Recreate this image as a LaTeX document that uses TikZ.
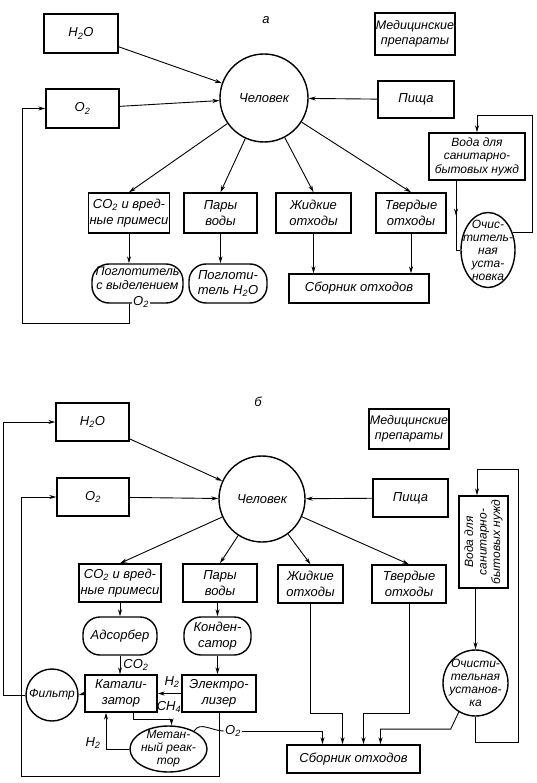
\documentclass[tikz,border=0pt]{standalone}
\usepackage{fontspec}
\setmainfont{Liberation Sans}
\usepackage{tikz}
\usetikzlibrary{calc,positioning,arrows,arrows.meta,shapes}

\begin{document}
\begin{tikzpicture}[x=1pt,y=-1pt,line width=0.9pt,>={Stealth[length=7pt,width=4pt]}]

\tikzstyle{every node}=[font=\fontsize{13}{15.5}\selectfont\itshape,
                        align=center, inner sep=1pt]
\tikzstyle{box}=[rectangle, draw, line width=1.4pt]
\tikzstyle{blob}=[rectangle, rounded corners=17pt, draw, line width=1.4pt]
\tikzstyle{oval}=[ellipse, draw, line width=1.4pt, inner sep=-7pt,
                  font=\fontsize{12}{13}\selectfont\itshape]
\tikzstyle{man}=[circle, draw, line width=1.4pt]

\useasboundingbox (0,0) rectangle (537,783);

%%% a
\node (tagA) at (266,20) {а};
\node[box, minimum width=74pt, minimum height=39pt] (h2oA) at (81,33.5) {H\textsubscript{2}O};
\node[box, minimum width=73pt, minimum height=39pt] (o2A) at (82.5,108.5) {O\textsubscript{2}};
\node[man, minimum size=88pt] (manA) at (264,98) {Человек};
\node[box, minimum width=78pt, minimum height=42pt, font=\fontsize{12.5}{15}\selectfont\itshape] (medA) at (415,34) {Медицинские\\препараты};
\node[box, minimum width=76pt, minimum height=37pt] (foodA) at (416,99.5) {Пища};
\node[box, minimum width=96pt, minimum height=47pt, font=\fontsize{12}{13.5}\selectfont\itshape] (waterA) at (477,156.5) {Вода для\\санитарно-\\бытовых нужд};
\node[box, minimum width=78pt, minimum height=40pt] (co2A) at (129,213) {CO\textsubscript{2} и вред-\\ные примеси};
\node[box, minimum width=73pt, minimum height=40pt] (vapA) at (220.5,213) {Пары\\воды};
\node[box, minimum width=75pt, minimum height=40pt] (liqA) at (313.5,213) {Жидкие\\отходы};
\node[box, minimum width=70pt, minimum height=40pt] (solA) at (411,213) {Твердые\\отходы};
\node[blob, minimum width=91pt, minimum height=39pt, inner sep=0pt, text depth=11pt, font=\fontsize{12.5}{14}\selectfont\itshape] (absA) at (137.5,283.5) {Поглотитель\\с выделением};
\node[fill=white] (o2outA) at (141,302) {O\textsubscript{2}};
\node[blob, minimum width=78pt, minimum height=39pt] (dryA) at (228,283.5) {Поглоти-\\тель H\textsubscript{2}O};
\node[box, minimum width=140pt, minimum height=29pt] (binA) at (359,288.5) {Сборник отходов};
\node[oval, minimum width=54pt, minimum height=75pt] (cleanA) at (488,250) {Очис-\\титель-\\ная\\уста-\\новка};

\foreach \i in {h2oA,o2A,foodA}{\draw[->] (\i) -- (manA);}
\foreach \j in {co2A,vapA,liqA,solA}{\draw[->] (manA) -- (\j.north);}
\draw[->] (co2A.south) -- (co2A.south |- absA.north);
\draw[->] (vapA.south) -- (vapA.south |- dryA.north);
\draw[->] (liqA.south) -- (liqA.south |- binA.north);
\draw[->] (solA.south) -- (solA.south |- binA.north);
\draw[->] (absA.south -| co2A.south) -- ++(0,20) -- ++(-107,0) |- (o2A.west);
\draw[->] (cleanA.35) -| (532,115) -| (waterA.north);
\draw[->] ([xshift=-21pt]waterA.south) -- ++(0,35);
\draw ([xshift=-21pt]waterA.south) |- (cleanA.west);

%%% b
\node (tagB) at (258,402) {б};
\node[box, minimum width=73pt, minimum height=38pt] (h2oB) at (92.5,422) {H\textsubscript{2}O};
\node[box, minimum width=72pt, minimum height=38pt] (o2B) at (93,497) {O\textsubscript{2}};
\node[man, minimum size=86pt] (manB) at (262,499) {Человек};
\node[box, minimum width=80pt, minimum height=40pt, font=\fontsize{12.5}{15}\selectfont\itshape] (medB) at (409,429) {Медицинские\\препараты};
\node[box, minimum width=75pt, minimum height=38pt] (foodB) at (410.5,498) {Пища};
\node[box, rotate=90, minimum width=92pt, minimum height=49pt, font=\fontsize{12}{13.5}\selectfont\itshape] (waterB) at (483.5,542) {Вода для\\санитарно-\\бытовых нужд};
\node[box, minimum width=82pt, minimum height=38pt] (co2B) at (120,583) {CO\textsubscript{2} и вред-\\ные примеси};
\node[box, minimum width=74pt, minimum height=38pt] (vapB) at (220,583) {Пары\\воды};
\node[box, minimum width=65pt, minimum height=38pt] (liqB) at (310.5,584) {Жидкие\\отходы};
\node[box, minimum width=74pt, minimum height=38pt] (solB) at (409,584) {Твердые\\отходы};
\node[blob, minimum width=74pt, minimum height=38pt] (adsB) at (120,636) {Адсорбер};
\node[blob, minimum width=67pt, minimum height=38pt] (condB) at (217.5,636) {Конден-\\сатор};
\node[box, minimum width=72pt, minimum height=37pt] (catB) at (121,693.5) {Катали-\\затор};
\node[box, minimum width=74pt, minimum height=37pt] (elecB) at (219,693.5) {Электро-\\лизер};
\node[man, minimum size=52pt, inner sep=0pt, font=\fontsize{12}{13}\selectfont\itshape] (filtB) at (52,695) {Фильтр};
\node[oval, minimum width=77pt, minimum height=46pt] (reacB) at (168.5,749) {Метан-\\ный реак-\\тор};
\node[oval, minimum width=65pt, minimum height=66pt] (cleanB) at (475.5,683) {Очисти-\\тельная\\установ-\\ка};
\node[box, minimum width=133pt, minimum height=28pt] (binB) at (353.5,759) {Сборник отходов};
\node (co2labB) at (136,665) {CO\textsubscript{2}};
\node (h2labB) at (172,682) {H\textsubscript{2}};
\node (ch4labB) at (169,707) {CH\textsubscript{4}};
\node (h2lab2B) at (93,743) {H\textsubscript{2}};
\node (o2labB) at (233,731) {O\textsubscript{2}};

\foreach \i in {h2oB,o2B,foodB}{\draw[->] (\i) -- (manB);}
\foreach \j in {co2B,vapB,liqB,solB}{\draw[->] (manB) -- (\j.north);}
\draw[->] (co2B.south) -- (co2B.south |- adsB.north);
\draw[->] (condB.north |- vapB.south) -- (condB.north);
\draw[->] (adsB.south) -- (adsB.south |- catB.north);
\draw[->] (condB.south) -- (condB.south |- elecB.north);
\draw[->] (elecB.west) -- (catB.east);
\draw[->] ([xshift=12pt]catB.south) -- ++(0,7) -| ([xshift=3pt]reacB.north);
\draw[->] (reacB.west) -| ([xshift=-15pt]catB.south);
\draw[->] (catB.west) -- (filtB.east);
\draw[->] (filtB.west) -- ++(-22,0) |- (h2oB.west);
\draw[->] (elecB.south) -- ++(0,64) -| ([xshift=-35pt]o2B.west) -- (o2B.west);
\draw (reacB.35) to[out=60,in=180] (o2labB.west);
\draw[->] (o2labB.east) -| ([xshift=-31pt]binB.north);
\draw[->] (liqB.south) -- ++(0,110) -| ([xshift=-11pt]binB.north);
\draw[->] (solB.south) -- ++(0,110) -| ([xshift=10pt]binB.north);
\draw[->] (cleanB.240) -- ++(-8,17) -| ([xshift=27pt]binB.north);
\draw[->] (cleanB.south) -- ++(0,26) -| (518,469) -| ([xshift=-6.5pt]waterB.east);
\draw[->] (cleanB.north |- waterB.west) -- (cleanB.north);

\end{tikzpicture}
\end{document}
